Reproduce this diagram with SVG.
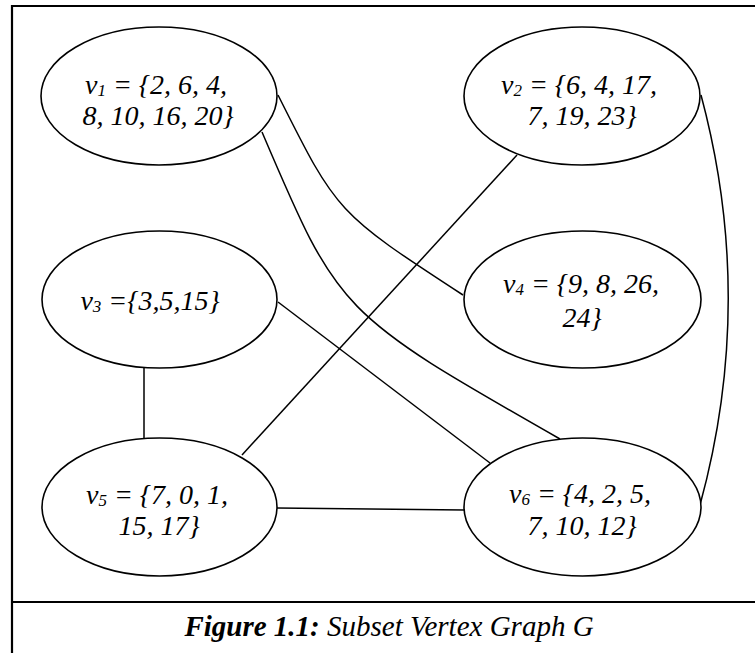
<svg xmlns="http://www.w3.org/2000/svg" width="755" height="653" viewBox="0 0 755 653">
<style>
.frame{fill:none;stroke:#000;stroke-width:2.2}
.node ellipse{fill:#fff;stroke:#000;stroke-width:1.6}
.edge{fill:none;stroke:#000;stroke-width:1.5}
.lbl{font-family:"Liberation Serif","Times New Roman",serif;font-style:italic;font-size:28px;fill:#000;text-anchor:middle}
.sub{font-size:17px}
.cap{font-family:"Liberation Serif","Times New Roman",serif;font-style:italic;font-size:29px;fill:#000;text-anchor:middle}
</style>
<rect width="755" height="653" fill="#fff"/>
<g id="frame">
<path class="frame" d="M12,653 V6 H755"/>
<path class="frame" d="M12,602 H755"/>
</g>
<g id="connectors">
<path class="edge" d="M278,95 C337,213 337,213 463,295"/>
<path class="edge" d="M262,132 C339,313 339,313 560,439"/>
<path class="edge" d="M517,155 L242,455"/>
<path class="edge" d="M701,95 Q756,300 700,505"/>
<path class="edge" d="M144,368 L144,438"/>
<path class="edge" d="M278,302 L490,463"/>
<path class="edge" d="M277,508 L464,510"/>
</g>
<g id="v1" class="node">
<ellipse cx="159" cy="96" rx="118" ry="69"/>
<text class="lbl" x="156" y="94">v<tspan class="sub" dy="2">1</tspan><tspan dy="-2"> = {2, 6, 4,</tspan></text>
<text class="lbl" x="158" y="125">8, 10, 16, 20}</text>
</g>
<g id="v2" class="node">
<ellipse cx="582" cy="96" rx="118" ry="69"/>
<text class="lbl" x="579" y="94">v<tspan class="sub" dy="2">2</tspan><tspan dy="-2"> = {6, 4, 17,</tspan></text>
<text class="lbl" x="582" y="125">7, 19, 23}</text>
</g>
<g id="v3" class="node">
<ellipse cx="159.5" cy="299.5" rx="117.5" ry="68.5"/>
<text class="lbl" x="150" y="310">v<tspan class="sub" dy="2">3</tspan><tspan dy="-2"> ={3,5,15}</tspan></text>
</g>
<g id="v4" class="node">
<ellipse cx="582.5" cy="299.5" rx="118.5" ry="68.5"/>
<text class="lbl" x="581" y="293">v<tspan class="sub" dy="2">4</tspan><tspan dy="-2"> = {9, 8, 26,</tspan></text>
<text class="lbl" x="582" y="327">24}</text>
</g>
<g id="v5" class="node">
<ellipse cx="159.5" cy="507" rx="117.5" ry="69"/>
<text class="lbl" x="157" y="504">v<tspan class="sub" dy="2">5</tspan><tspan dy="-2"> = {7, 0, 1,</tspan></text>
<text class="lbl" x="159" y="535">15, 17}</text>
</g>
<g id="v6" class="node">
<ellipse cx="582.5" cy="507" rx="118.5" ry="69"/>
<text class="lbl" x="580" y="503">v<tspan class="sub" dy="2">6</tspan><tspan dy="-2"> = {4, 2, 5,</tspan></text>
<text class="lbl" x="582" y="535">7, 10, 12}</text>
</g>
<g id="caption">
<text class="cap" x="389" y="636"><tspan font-weight="bold">Figure 1.1:</tspan> Subset Vertex Graph G</text>
</g>
</svg>
